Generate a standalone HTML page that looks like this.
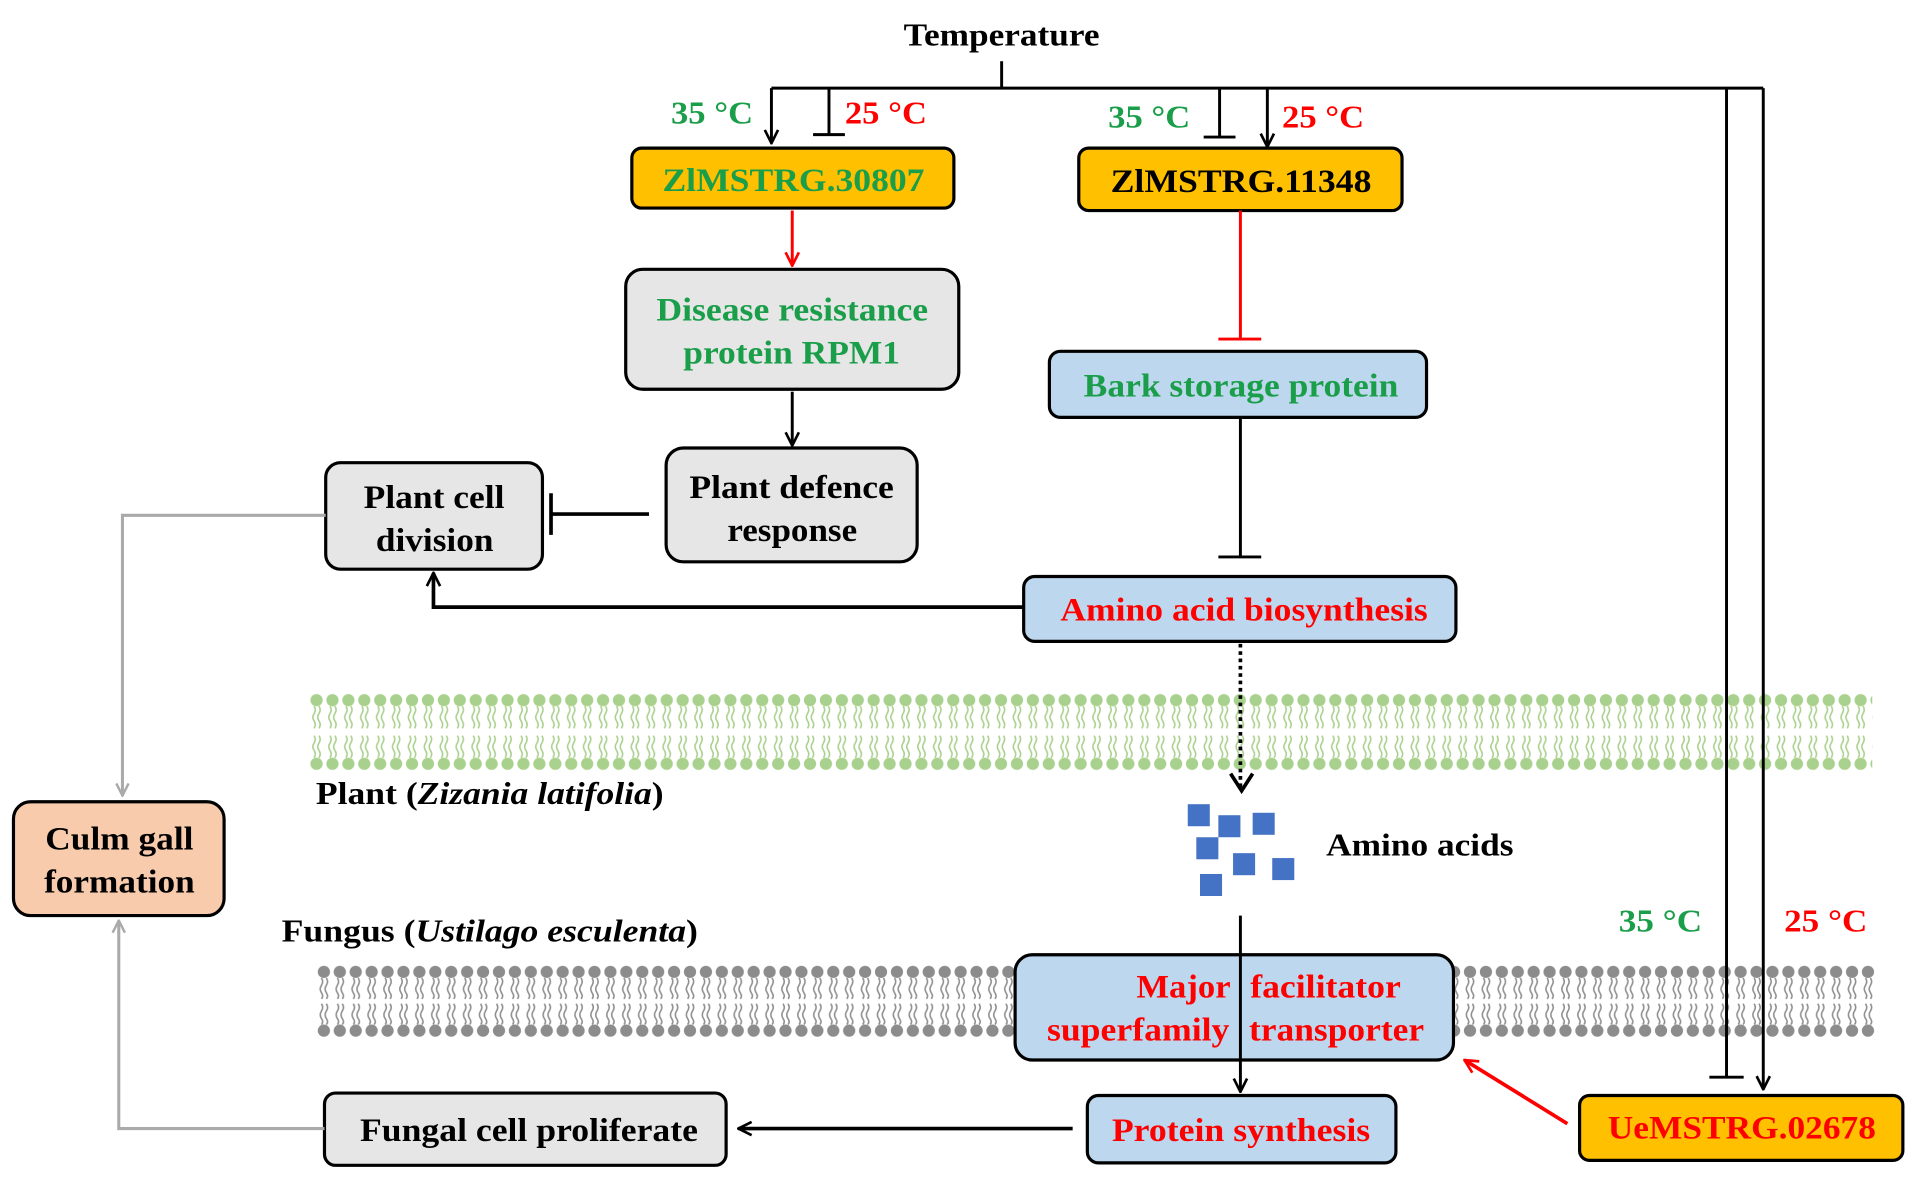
<!DOCTYPE html>
<html><head><meta charset="utf-8"><style>
html,body{margin:0;padding:0;background:#fff;}
svg{display:block;}
text{font-family:"Liberation Serif",serif;font-weight:bold;}
</style></head><body>
<svg width="1920" height="1191" viewBox="0 0 1568 973" preserveAspectRatio="none" xmlns="http://www.w3.org/2000/svg">
<defs>
<pattern id="pg" x="252" y="566" width="13" height="64" patternUnits="userSpaceOnUse">
 <g stroke="#a9d18e" stroke-width="1.3" fill="none">
  <path d="M4.5 11 q2 3 0 6 q-2 3 0 6 q2 3 0 6"/><path d="M8.5 11 q2 3 0 6 q-2 3 0 6 q2 3 0 6"/>
  <path d="M4.5 35 q2 3 0 6 q-2 3 0 6 q2 3 0 6"/><path d="M8.5 35 q2 3 0 6 q-2 3 0 6 q2 3 0 6"/>
 </g>
 <circle cx="6.5" cy="6" r="5" fill="#a9d18e"/><circle cx="6.5" cy="58" r="5" fill="#a9d18e"/>
</pattern>
<pattern id="pf" x="258" y="788" width="13" height="60" patternUnits="userSpaceOnUse">
 <g stroke="#909090" stroke-width="1.3" fill="none">
  <path d="M4.5 11 q2 3 0 6 q-2 3 0 6 q2 3 0 5"/><path d="M8.5 11 q2 3 0 6 q-2 3 0 6 q2 3 0 5"/>
  <path d="M4.5 32 q2 3 0 6 q-2 3 0 6 q2 3 0 5"/><path d="M8.5 32 q2 3 0 6 q-2 3 0 6 q2 3 0 5"/>
 </g>
 <circle cx="6.5" cy="6" r="5" fill="#8c8c8c"/><circle cx="6.5" cy="54" r="5" fill="#8c8c8c"/>
</pattern>
<marker id="ab" viewBox="0 0 12 12" refX="11" refY="6" markerWidth="13" markerHeight="13" markerUnits="userSpaceOnUse" orient="auto"><path d="M1 1 L11 6 L1 11" fill="none" stroke="#000" stroke-width="2"/></marker>
<marker id="ar" viewBox="0 0 12 12" refX="11" refY="6" markerWidth="13" markerHeight="13" markerUnits="userSpaceOnUse" orient="auto"><path d="M1 1 L11 6 L1 11" fill="none" stroke="#f00" stroke-width="2"/></marker>
<marker id="ag" viewBox="0 0 12 12" refX="11" refY="6" markerWidth="12" markerHeight="12" markerUnits="userSpaceOnUse" orient="auto"><path d="M1 1 L11 6 L1 11" fill="none" stroke="#aaa" stroke-width="2"/></marker>
</defs>

<rect x="252" y="566" width="1277" height="64" fill="url(#pg)"/>
<rect x="258" y="788" width="1274" height="60" fill="url(#pf)"/>

<g font-size="26" lengthAdjust="spacingAndGlyphs">
<text x="738" y="37" textLength="160" lengthAdjust="spacingAndGlyphs" fill="#000">Temperature</text>
<text x="548" y="101" textLength="67" lengthAdjust="spacingAndGlyphs" fill="#1a9e4a">35 °C</text>
<text x="690" y="101" textLength="67" lengthAdjust="spacingAndGlyphs" fill="#f00">25 °C</text>
<text x="905" y="104" textLength="67" lengthAdjust="spacingAndGlyphs" fill="#1a9e4a">35 °C</text>
<text x="1047" y="104" textLength="67" lengthAdjust="spacingAndGlyphs" fill="#f00">25 °C</text>
</g>
<g stroke="#000" stroke-width="2.4" fill="none">
 <path d="M818 50 V72"/>
 <path d="M630 72 H1440"/>
 <path d="M630 72 V117" marker-end="url(#ab)"/>
 <path d="M677 72 V110 M664 110 H690"/>
 <path d="M996 72 V112 M983 112 H1009"/>
 <path d="M1035 72 V120" marker-end="url(#ab)"/>
 <path d="M1410 72 V880 M1396 880 H1424"/>
 <path d="M1440 72 V890" marker-end="url(#ab)"/>
</g>

<g stroke="#000" stroke-width="2.6">
 <rect x="516" y="121" width="263" height="49" rx="8" fill="#ffc000"/>
 <rect x="881" y="121" width="264" height="51" rx="8" fill="#ffc000"/>
 <rect x="511" y="220" width="272" height="98" rx="14" fill="#e6e6e6"/>
 <rect x="544" y="366" width="205" height="93" rx="14" fill="#e6e6e6"/>
 <rect x="266" y="378" width="177" height="87" rx="12" fill="#e6e6e6"/>
 <rect x="857" y="287" width="308" height="54" rx="9" fill="#bdd7ee"/>
 <rect x="836" y="471" width="353" height="53" rx="9" fill="#bdd7ee"/>
 <rect x="829" y="780" width="358" height="86" rx="14" fill="#bdd7ee"/>
 <rect x="888" y="895" width="252" height="55" rx="9" fill="#bdd7ee"/>
 <rect x="265" y="893" width="328" height="59" rx="9" fill="#e6e6e6"/>
 <rect x="1290" y="895" width="264" height="53" rx="8" fill="#ffc000"/>
 <rect x="11" y="655" width="172" height="93" rx="14" fill="#f8cbad"/>
</g>

<g font-size="27">
<text x="541" y="156" textLength="214" lengthAdjust="spacingAndGlyphs" fill="#1a9e4a">ZlMSTRG.30807</text>
<text x="907" y="157" textLength="213" lengthAdjust="spacingAndGlyphs" fill="#000">ZlMSTRG.11348</text>
<text x="536" y="262" textLength="222" lengthAdjust="spacingAndGlyphs" fill="#1a9e4a">Disease resistance</text>
<text x="558" y="297" textLength="177" lengthAdjust="spacingAndGlyphs" fill="#1a9e4a">protein RPM1</text>
<text x="563" y="407" textLength="167" lengthAdjust="spacingAndGlyphs" fill="#000">Plant defence</text>
<text x="594" y="442" textLength="106" lengthAdjust="spacingAndGlyphs" fill="#000">response</text>
<text x="297" y="415" textLength="115" lengthAdjust="spacingAndGlyphs" fill="#000">Plant cell</text>
<text x="307" y="450" textLength="96" lengthAdjust="spacingAndGlyphs" fill="#000">division</text>
<text x="885" y="324" textLength="257" lengthAdjust="spacingAndGlyphs" fill="#1a9e4a">Bark storage protein</text>
<text x="866" y="507" textLength="300" lengthAdjust="spacingAndGlyphs" fill="#f00">Amino acid biosynthesis</text>
<text x="928" y="815" textLength="77" lengthAdjust="spacingAndGlyphs" fill="#f00">Major</text>
<text x="1021" y="815" textLength="123" lengthAdjust="spacingAndGlyphs" fill="#f00">facilitator</text>
<text x="855" y="850" textLength="149" lengthAdjust="spacingAndGlyphs" fill="#f00">superfamily</text>
<text x="1020" y="850" textLength="143" lengthAdjust="spacingAndGlyphs" fill="#f00">transporter</text>
<text x="908" y="932" textLength="211" lengthAdjust="spacingAndGlyphs" fill="#f00">Protein synthesis</text>
<text x="294" y="932" textLength="276" lengthAdjust="spacingAndGlyphs" fill="#000">Fungal cell proliferate</text>
<text x="1313" y="930" textLength="219" lengthAdjust="spacingAndGlyphs" fill="#f00">UeMSTRG.02678</text>
<text x="37" y="694" textLength="121" lengthAdjust="spacingAndGlyphs" fill="#000">Culm gall</text>
<text x="36" y="729" textLength="123" lengthAdjust="spacingAndGlyphs" fill="#000">formation</text>
</g>
<g font-size="26">
<text x="258" y="657" textLength="284" lengthAdjust="spacingAndGlyphs" fill="#000">Plant (<tspan font-style="italic">Zizania latifolia</tspan>)</text>
<text x="230" y="769" textLength="340" lengthAdjust="spacingAndGlyphs" fill="#000">Fungus (<tspan font-style="italic">Ustilago esculenta</tspan>)</text>
<text x="1083" y="699" textLength="153" lengthAdjust="spacingAndGlyphs" fill="#000">Amino acids</text>
<text x="1322" y="761" textLength="68" lengthAdjust="spacingAndGlyphs" fill="#1a9e4a">35 °C</text>
<text x="1457" y="761" textLength="68" lengthAdjust="spacingAndGlyphs" fill="#f00">25 °C</text>
</g>

<g fill="#4472c4">
 <rect x="970" y="657" width="18" height="18"/><rect x="995" y="666" width="18" height="18"/>
 <rect x="1023" y="664" width="18" height="18"/><rect x="977" y="684" width="18" height="18"/>
 <rect x="1007" y="697" width="18" height="18"/><rect x="1039" y="701" width="18" height="18"/>
 <rect x="980" y="714" width="18" height="18"/>
</g>

<g fill="none" stroke-width="2.4">
 <path d="M647 172 V217" stroke="#f00" marker-end="url(#ar)"/>
 <path d="M647 320 V364" stroke="#000" marker-end="url(#ab)"/>
 <path d="M530 420 H450 M450 403 V437" stroke="#000" stroke-width="3"/>
 <path d="M1013 172 V277 M995 277 H1030" stroke="#f00"/>
 <path d="M1013 341 V455 M995 455 H1030" stroke="#000"/>
 <path d="M836 496 H354 V468" stroke="#000" stroke-width="3" marker-end="url(#ab)"/>
 <path d="M1013 526 V643" stroke="#000" stroke-width="3" stroke-dasharray="3 3"/>
 <path d="M1005 632 L1014 646 L1023 632" stroke="#000" stroke-width="3"/>
 <path d="M1013 748 V892" stroke="#000" marker-end="url(#ab)"/>
 <path d="M876 922 H603" stroke="#000" stroke-width="3" marker-end="url(#ab)"/>
 <path d="M1280 918 L1196 866" stroke="#f00" stroke-width="3" marker-end="url(#ar)"/>
 <path d="M266 421 H100 V650" stroke="#aaa" stroke-width="2.5" marker-end="url(#ag)"/>
 <path d="M265 922 H97 V752" stroke="#aaa" stroke-width="2.5" marker-end="url(#ag)"/>
</g>
</svg>
</body></html>
